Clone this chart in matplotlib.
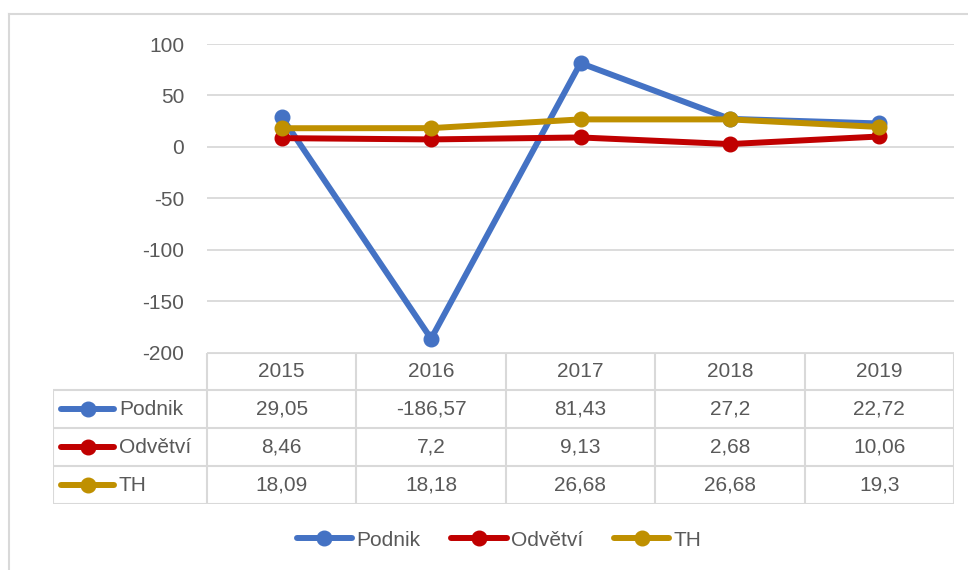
import matplotlib
matplotlib.use("Agg")
import matplotlib.pyplot as plt
from matplotlib.lines import Line2D

# data
roky = ["2015", "2016", "2017", "2018", "2019"]
podnik = [29.05, -186.57, 81.43, 27.2, 22.72]
odvetvi = [8.46, 7.2, 9.13, 2.68, 10.06]
th = [18.09, 18.18, 26.68, 26.68, 19.3]
nazvy = ["Podnik", "Odvětví", "TH"]
barvy = ["#4472C4", "#C00000", "#BF9000"]
serie = [podnik, odvetvi, th]

plt.rcParams["font.family"] = ["Liberation Sans", "DejaVu Sans"]
plt.rcParams["axes.unicode_minus"] = False
seda = "#595959"
mrizka = "#D9D9D9"

W, H = 968, 570
fig = plt.figure(figsize=(W / 100, H / 100), dpi=100)

def fx(px):
    return px / W

def fy(py):
    return 1 - py / H

# outer chart border
fig.add_artist(Line2D([fx(9), fx(9)], [fy(14), 0], color=mrizka, lw=1.5))
fig.add_artist(Line2D([fx(9), 1], [fy(14), fy(14)], color=mrizka, lw=1.5))

# main plot area
ax = fig.add_axes([fx(207), fy(352.5), fx(954) - fx(207), fy(44) - fy(352.5)])
x = list(range(len(roky)))
for s, n, c in zip(serie, nazvy, barvy):
    ax.plot(x, s, color=c, lw=4.3, marker="o", ms=10.5, label=n, solid_capstyle="round")
ax.set_xlim(-0.5, len(roky) - 0.5)
ax.set_ylim(-200, 100)
ax.set_yticks(range(-200, 101, 50))
ax.set_xticks([])
ax.grid(axis="y", color=mrizka, lw=1.3)
ax.set_axisbelow(True)
for sp in ax.spines.values():
    sp.set_visible(False)
ax.tick_params(axis="y", length=0, pad=16.5, labelsize=15, labelcolor=seda)

# data table
tab = fig.add_axes([fx(53), fy(504), fx(954) - fx(53), fy(352.5) - fy(504)])
sirka = 149.4
levy = (207 - 53) / sirka + 0.5
tab.set_xlim(-levy, len(roky) - 0.5)
tab.set_ylim(4, 0)
tab.axis("off")

def tx(px):
    return (px - 53) / sirka - levy

kw = dict(color=mrizka, lw=1.5, solid_capstyle="butt")
tab.plot([-0.5, len(roky) - 0.5], [0, 0], **kw)
for r in range(1, 5):
    tab.plot([-levy, len(roky) - 0.5], [r, r], **kw)
for i in range(len(roky) + 1):
    tab.plot([i - 0.5, i - 0.5], [0, 4], **kw)
tab.plot([-levy, -levy], [1, 4], **kw)

for i, r in enumerate(roky):
    tab.text(i, 0.5, r, ha="center", va="center", fontsize=15, color=seda)
for j, (s, n, c) in enumerate(zip(serie, nazvy, barvy)):
    yy = j + 1.5
    tab.plot([tx(61), tx(114)], [yy, yy], color=c, lw=4.3, solid_capstyle="round")
    tab.plot([tx(88)], [yy], color=c, marker="o", ms=10.5)
    tab.text(tx(119), yy, n, ha="left", va="center", fontsize=15, color=seda)
    for i, v in enumerate(s):
        tab.text(i, yy, str(v).replace(".", ","), ha="center", va="center",
                 fontsize=15, color=seda)

# legend
leg = fig.legend(loc="center", bbox_to_anchor=(fx(499), fy(540)), ncol=3,
                 frameon=False, fontsize=15, handlelength=2.65,
                 handletextpad=0.2, columnspacing=1.5, labelcolor=seda)

fig.savefig("out.png", dpi=100)
